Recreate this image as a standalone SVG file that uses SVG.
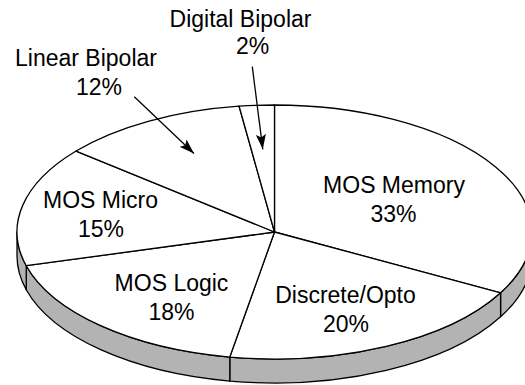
<svg xmlns="http://www.w3.org/2000/svg" width="525" height="385" viewBox="0 0 525 385">
  <style>
    .top { fill: #ffffff; stroke: #000000; stroke-width: 1.3; stroke-linejoin: round; }
    .side { fill: #b3b3b3; stroke: #000000; stroke-width: 1.3; stroke-linejoin: round; }
    .lbl { font-family: "Liberation Sans", Arial, sans-serif; font-size: 23px; fill: #000000; text-anchor: middle; }
    .lead { fill: none; stroke: #000000; stroke-width: 1.3; marker-end: url(#head); }
  </style>
  <defs>
    <marker id="head" markerUnits="userSpaceOnUse" markerWidth="16" markerHeight="10" refX="15" refY="5" orient="auto" viewBox="0 0 16 10">
      <path d="M0,0 L15,5 L0,10 L3,5 z" fill="#000000"/>
    </marker>
  </defs>

  <rect width="525" height="385" fill="#ffffff"/>

  <!-- pie: centre (274.5,232), radii 257.5 x 127, depth 24 -->
  <g id="mos-memory">
    <path class="side" d="M532,232 A257.5,127 0 0 1 500.58,292.79 L500.58,316.79 A257.5,127 0 0 0 532,256 Z"/>
    <path class="top" d="M274.5,232 L274.5,105 A257.5,127 0 0 1 500.58,292.79 Z"/>
    <text class="lbl" x="394" y="193">MOS Memory</text>
    <text class="lbl" x="393.5" y="221.5">33%</text>
  </g>

  <g id="discrete-opto">
    <path class="side" d="M500.58,292.79 A257.5,127 0 0 1 229.79,357.07 L229.79,381.07 A257.5,127 0 0 0 500.58,316.79 Z"/>
    <path class="top" d="M274.5,232 L500.58,292.79 A257.5,127 0 0 1 229.79,357.07 Z"/>
    <text class="lbl" x="345.5" y="303">Discrete/Opto</text>
    <text class="lbl" x="346" y="331.5">20%</text>
  </g>

  <g id="mos-logic">
    <path class="side" d="M229.79,357.07 A257.5,127 0 0 1 26.24,265.73 L26.24,289.73 A257.5,127 0 0 0 229.79,381.07 Z"/>
    <path class="top" d="M274.5,232 L229.79,357.07 A257.5,127 0 0 1 26.24,265.73 Z"/>
    <text class="lbl" x="171.5" y="291">MOS Logic</text>
    <text class="lbl" x="171.5" y="319.5">18%</text>
  </g>

  <g id="mos-micro">
    <path class="side" d="M26.24,265.73 A257.5,127 0 0 1 17,232 L17,256 A257.5,127 0 0 0 26.24,289.73 Z"/>
    <path class="top" d="M274.5,232 L26.24,265.73 A257.5,127 0 0 1 76.09,151.05 Z"/>
    <text class="lbl" x="100.5" y="208">MOS Micro</text>
    <text class="lbl" x="101" y="236.5">15%</text>
  </g>

  <g id="linear-bipolar">
    <path class="top" d="M274.5,232 L76.09,151.05 A257.5,127 0 0 1 239.11,106.2 Z"/>
    <text class="lbl" x="86" y="65.5">Linear Bipolar</text>
    <text class="lbl" x="99" y="94.5">12%</text>
  </g>

  <g id="digital-bipolar">
    <path class="top" d="M274.5,232 L239.11,106.2 A257.5,127 0 0 1 274.5,105 Z"/>
    <text class="lbl" x="240.5" y="26.5">Digital Bipolar</text>
    <text class="lbl" x="252.5" y="54">2%</text>
  </g>

  <g id="connectors">
    <line class="lead" x1="134.3" y1="96.7" x2="194" y2="153.5"/>
    <line class="lead" x1="252.3" y1="66.7" x2="262.8" y2="149.3"/>
  </g>
</svg>
